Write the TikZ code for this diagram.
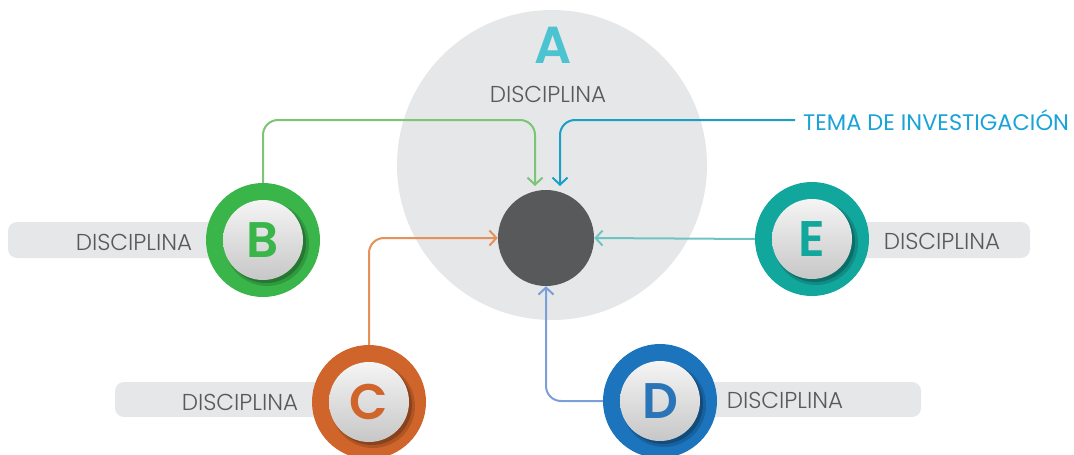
\documentclass[tikz,border=0pt]{standalone}
\usepackage{fontspec}
\setmainfont{Poppins}
\newfontfamily\lightfont{Poppins Light}
\newfontfamily\medfont{Poppins SemiBold}
\usetikzlibrary{arrows.meta}
\definecolor{hubgray}{HTML}{58595B}
\definecolor{softgray}{HTML}{E6E7E8}
\definecolor{txtgray}{HTML}{58595B}
\definecolor{cA}{HTML}{4BC3D1}
\definecolor{cB}{HTML}{3AB54A}
\definecolor{lB}{HTML}{7CC576}
\definecolor{cC}{HTML}{D0652B}
\definecolor{lC}{HTML}{E5915A}
\definecolor{cD}{HTML}{1C74BC}
\definecolor{tD}{HTML}{2A74B8}
\definecolor{lD}{HTML}{7B9FD9}
\definecolor{cE}{HTML}{12A79D}
\definecolor{lE}{HTML}{6DC4C0}
\definecolor{cT}{HTML}{1AA3D9}
\definecolor{lT}{HTML}{1BA0C5}
\tikzset{
  ring/.style={circle, fill=#1, minimum size=114pt, inner sep=0pt},
  disc/.style={circle, minimum size=80pt, inner sep=0pt, top color=white!96!black, bottom color=black!22,
    font=\medfont\fontsize{50}{50}\selectfont},
  bar/.style={fill=softgray, rounded corners=9pt},
  label/.style={text=txtgray, font=\lightfont\fontsize{23}{23}\selectfont, inner sep=0pt},
  conn/.style={line width=2pt, rounded corners=15pt, -{Straight Barb[length=7pt,width=15pt,line width=2pt]}},
}
\begin{document}
\begin{tikzpicture}[x=1pt,y=-1pt]
\useasboundingbox (0,0) rectangle (1074,455);

% central discipline field and research topic
\fill[softgray] (552,165) circle (155pt);
\node[text=cA, font=\medfont\fontsize{52}{52}\selectfont, inner sep=0pt] (Aletter) at (553,45) {A};
\node[label] (Alabel) at (548,94) {DISCIPLINA};
\node[circle, fill=hubgray, minimum size=96pt, inner sep=0pt] (hub) at (546,238) {};

% grey label bars behind the outer disciplines
\fill[bar] (8,222) rectangle (270,258);
\fill[bar] (115,382) rectangle (375,417);
\fill[bar] (655,382) rectangle (921,417);
\fill[bar] (810,222) rectangle (1030,258);

\node[label] (Blabel) at (134,242) {DISCIPLINA};
\node[label] (Clabel) at (240,402) {DISCIPLINA};
\node[label] (Dlabel) at (785,400) {DISCIPLINA};
\node[label] (Elabel) at (942,241) {DISCIPLINA};

% discipline badges
\foreach \n/\x/\y/\c/\t in {B/263/240/cB/cB, C/369/402/cC/cC, D/660/401/cD/tD, E/812/239/cE/cE}{
  \node[ring=\c] (\n) at (\x,\y) {};
  \fill[\c!55!black, opacity=.35] (\x+4,\y+4) circle (42pt);
  \fill[\c!45!black, opacity=.45] (\x+3,\y+3) circle (40pt);
  \node[disc, text=\t] (\n disc) at (\x,\y) {\n};
}

% connectors into the research topic
\coordinate (bIn) at (535,186);
\coordinate (tIn) at (560,186);
\coordinate (tStart) at (795,120);
\node[text=cT, font=\fontsize{22.5}{22.5}\selectfont, anchor=west, inner sep=0pt] (tema) at (803,120) {TEMA DE INVESTIGACIÓN};

\draw[conn, lB] (B.north) |- (bIn |- tStart) -- (bIn);
\draw[conn, lT] (tStart) -| (tIn);
\draw[conn, lC] (C.north) |- (hub.west);
\draw[conn, lE] (E.west) -- (hub.east);
\draw[conn, lD] (D.west) -| (hub.south);
\end{tikzpicture}
\end{document}
